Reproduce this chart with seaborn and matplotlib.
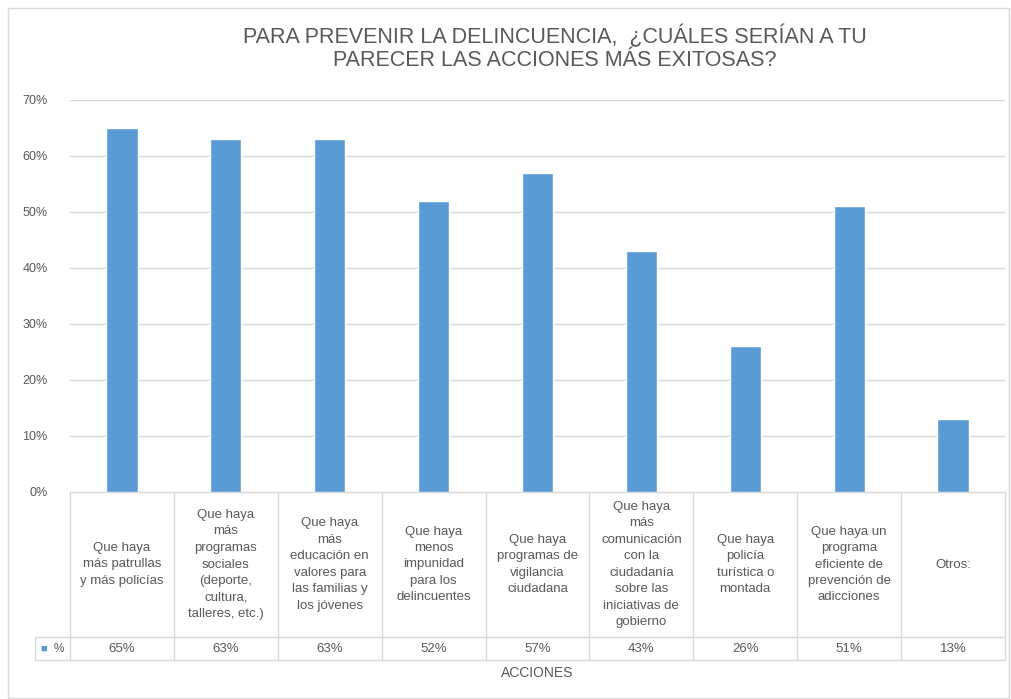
import matplotlib
matplotlib.use("Agg")
import matplotlib.pyplot as plt
import matplotlib.transforms as mtransforms
from matplotlib.patches import Rectangle
import seaborn as sns
import pandas as pd

titulo = "PARA PREVENIR LA DELINCUENCIA,  ¿CUÁLES SERÍAN A TU\nPARECER LAS ACCIONES MÁS EXITOSAS?"
categorias = [
    "Que haya\nmás patrullas\ny más policías",
    "Que haya\nmás\nprogramas\nsociales\n(deporte,\ncultura,\ntalleres, etc.)",
    "Que haya\nmás\neducación en\nvalores para\nlas familias y\nlos jóvenes",
    "Que haya\nmenos\nimpunidad\npara los\ndelincuentes",
    "Que haya\nprogramas de\nvigilancia\nciudadana",
    "Que haya\nmás\ncomunicación\ncon la\nciudadanía\nsobre las\niniciativas de\ngobierno",
    "Que haya\npolicía\nturística o\nmontada",
    "Que haya un\nprograma\neficiente de\nprevención de\nadicciones",
    "Otros:",
]
valores = [65, 63, 63, 52, 57, 43, 26, 51, 13]
serie = "%"
eje_x = "ACCIONES"
yticks = [0, 10, 20, 30, 40, 50, 60, 70]

BLUE = "#5b9bd5"
GRID = "#d9d9d9"
TXT = "#595959"

sns.set_theme(style="white")
plt.rcParams["font.family"] = ["Liberation Sans", "DejaVu Sans"]

fig = plt.figure(figsize=(10.12, 6.99), dpi=100)
W, H = 1012, 699
ax = fig.add_axes([70 / W, 1 - 492 / H, 935 / W, 392 / H])

df = pd.DataFrame({"cat": list(range(len(categorias))), "val": valores})
sns.barplot(data=df, x="cat", y="val", color=BLUE, width=0.3, saturation=1, ax=ax, zorder=3)

ax.set_ylim(0, 70)
ax.set_xlim(-0.5, len(categorias) - 0.5)
ax.set_yticks(yticks)
ax.set_yticklabels([f"{t}%" for t in yticks], fontsize=9, color=TXT)
ax.tick_params(axis="y", length=0, pad=16)
ax.set_xticks([])
ax.set_xlabel("")
ax.set_ylabel("")
for s in ax.spines.values():
    s.set_visible(False)
for t in yticks[1:]:
    ax.axhline(t, color=GRID, lw=1, zorder=0)

# data table below the plot
tr = mtransforms.blended_transform_factory(ax.transData, ax.transAxes)
tra = ax.transAxes
y_top = 0.0
y_sep = -(637 - 492) / 392
y_bot = -(660 - 492) / 392
x_leg = -35 / 935
n = len(categorias)
line_kw = dict(color=GRID, lw=1, clip_on=False)
ax.plot([0, 1], [y_top, y_top], transform=tra, **line_kw)
ax.plot([x_leg, 1], [y_sep, y_sep], transform=tra, **line_kw)
ax.plot([x_leg, 1], [y_bot, y_bot], transform=tra, **line_kw)
ax.plot([x_leg, x_leg], [y_sep, y_bot], transform=tra, **line_kw)
for i in range(n + 1):
    ax.plot([i - 0.5, i - 0.5], [y_top, y_bot], transform=tr, **line_kw)

for i, (c, v) in enumerate(zip(categorias, valores)):
    ax.text(i, (y_top + y_sep) / 2, c, transform=tr, ha="center", va="center",
            fontsize=9.5, color=TXT, linespacing=1.5)
    ax.text(i, (y_sep + y_bot) / 2, f"{v}%", transform=tr, ha="center", va="center",
            fontsize=9.5, color=TXT)

ax.text(x_leg / 2 - 0.009, (y_sep + y_bot) / 2, "■", transform=tra, ha="center", va="center",
        fontsize=8, color=BLUE)
ax.text(x_leg / 2 + 0.007, (y_sep + y_bot) / 2, serie, transform=tra, ha="center", va="center",
        fontsize=8.5, color=TXT)

ax.text(0.5, -(673 - 492) / 392, eje_x, transform=tra, ha="center", va="center",
        fontsize=10, color=TXT)

fig.text(555 / W, 1 - 48 / H, titulo, ha="center", va="center", fontsize=15.5,
         color=TXT, linespacing=1.15)

fig.patches.append(Rectangle((8 / W, 1 / H), 1001 / W, 690 / H, transform=fig.transFigure,
                             fill=False, edgecolor=GRID, lw=1))

fig.savefig("out.png", dpi=100)
